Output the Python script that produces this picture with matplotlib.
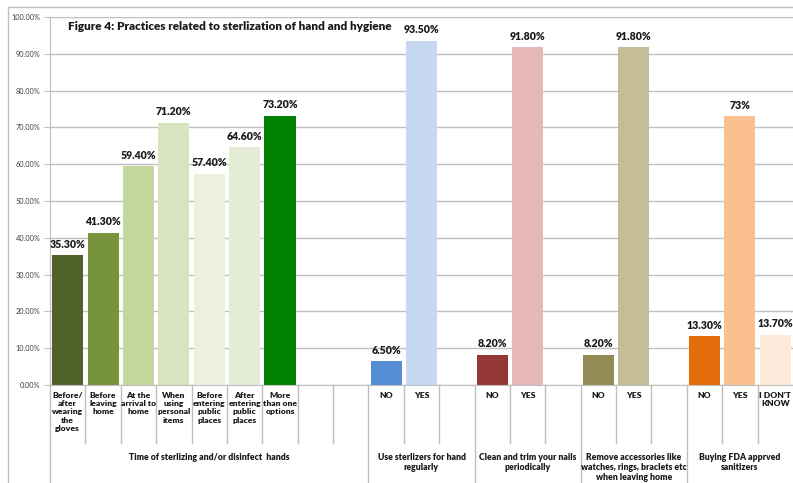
import matplotlib
matplotlib.use("Agg")
import matplotlib.pyplot as plt
from matplotlib.lines import Line2D

plt.rcParams['font.family'] = ['Lato', 'DejaVu Sans']

# slot positions: 9 slots in first group, then 3 slots in each other group
group_names = ["Time of sterlizing and/or disinfect  hands",
               "Use sterlizers for hand\nregularly",
               "Clean and trim your nails\nperiodically",
               "Remove accessories like\nwatches, rings, braclets etc\nwhen leaving home",
               "Buying FDA apprved\nsanitizers"]
group_slots = [9, 3, 3, 3, 3]

cat_labels = ["Before/\nafter\nwearing\nthe\ngloves", "Before\nleaving\nhome",
              "At the\narrival to\nhome", "When\nusing\npersonal\nitems",
              "Before\nentering\npublic\nplaces", "After\nentering\npublic\nplaces",
              "More\nthan one\noptions",
              "NO", "YES", "NO", "YES", "NO", "YES", "NO", "YES", "I DON'T\nKNOW"]
cat_pos = [0, 1, 2, 3, 4, 5, 6, 9, 10, 12, 13, 15, 16, 18, 19, 20]
values = [35.3, 41.3, 59.4, 71.2, 57.4, 64.6, 73.2,
          6.5, 93.5, 8.2, 91.8, 8.2, 91.8, 13.3, 73.0, 13.7]
value_text = ["35.30%", "41.30%", "59.40%", "71.20%", "57.40%", "64.60%", "73.20%",
              "6.50%", "93.50%", "8.20%", "91.80%", "8.20%", "91.80%",
              "13.30%", "73%", "13.70%"]
colors = ["#4F6228", "#77933C", "#C3D69B", "#D7E4BD", "#EBF1DE", "#E5ECD6", "#008000",
          "#558ED5", "#C6D9F1", "#953735", "#E6B9B8", "#948A54", "#C4BD97",
          "#E46C0A", "#FAC090", "#FDEADA"]

W, H = 793, 483
fig = plt.figure(figsize=(W / 100, H / 100), dpi=100)
ax = fig.add_axes([50 / W, 1 - 385 / H, (793 - 50) / W, (385 - 17) / H])

grid_c = "#bfbfbf"
ax.bar(cat_pos, values, width=0.88, color=colors, zorder=2)
ax.set_xlim(-0.5, 20.5)
ax.set_ylim(0, 100)
ax.set_yticks(range(0, 101, 10))
ax.set_yticklabels([f"{v:.2f}%" for v in range(0, 101, 10)], fontsize=5.3, color="#404040")
ax.yaxis.grid(True, color=grid_c, lw=1, zorder=0)
ax.tick_params(axis='y', length=4, color=grid_c, pad=3)
ax.set_xticks([])
for s in ["top", "right"]:
    ax.spines[s].set_visible(False)
ax.spines["left"].set_color(grid_c)
ax.spines["bottom"].set_color(grid_c)

for x, v, t in zip(cat_pos, values, value_text):
    ax.annotate(t, (x, v), xytext=(0, 4), textcoords="offset points",
                ha="center", va="bottom", fontsize=7.6, fontweight="heavy", color="#1a1a1a")

tr = ax.get_xaxis_transform()
px = 1 / 368  # one pixel in axes fraction
# separators below the axis
bounds = []
start = -0.5
for n in group_slots:
    bounds.append(start)
    start += n
major = set(bounds)
for k in range(21):
    b = k - 0.5
    if b in major:
        y_end = -(483 - 385) * px
    else:
        y_end = -(443 - 385) * px
    ax.add_line(Line2D([b, b], [0, y_end], transform=tr, color=grid_c, lw=1, clip_on=False))

for x, lab in zip(cat_pos, cat_labels):
    ax.text(x, -(392 - 385) * px, lab, transform=tr, ha="center", va="top",
            fontsize=6.1, fontweight="heavy", color="#1a1a1a", linespacing=1.2)

start = -0.5
for name, n in zip(group_names, group_slots):
    ax.text(start + n / 2, -(453 - 385) * px, name, transform=tr, ha="center", va="top",
            fontsize=6.2, fontweight="heavy", color="#1a1a1a", linespacing=1.15)
    start += n

ax.text(68 / W, 1 - 27 / H, "Figure 4: Practices related to sterlization of hand and hygiene",
        transform=fig.transFigure, ha="left", va="center", fontsize=8.5,
        fontweight="heavy", color="#1a1a1a")

# outer chart frame
fig.add_artist(Line2D([8 / W, 8 / W], [0, 1 - 7 / H], color=grid_c, lw=1))
fig.add_artist(Line2D([8 / W, 1], [1 - 7 / H, 1 - 7 / H], color=grid_c, lw=1))

fig.savefig("out.png", dpi=100)
